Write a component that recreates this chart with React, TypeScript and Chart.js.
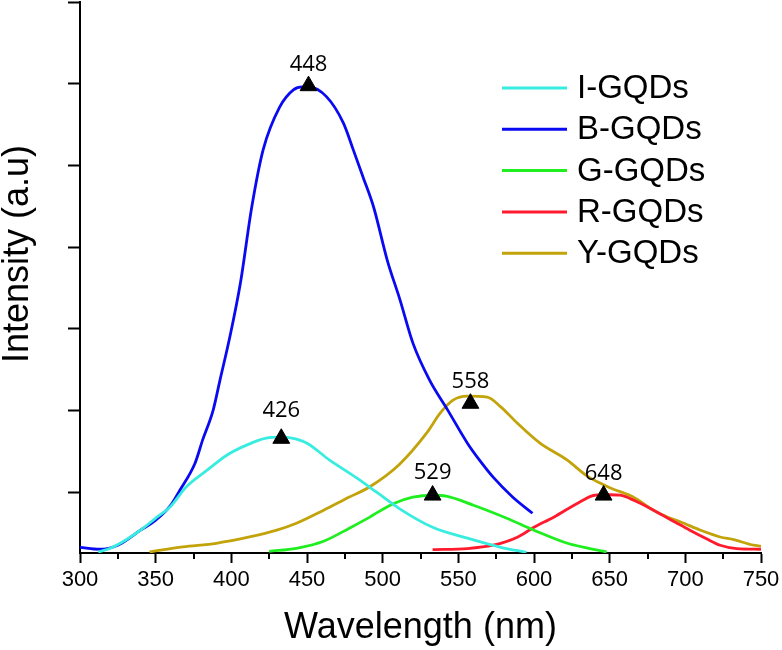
import React, { useEffect, useRef } from 'react';
import Chart from 'chart.js/auto';

// ---- data ----
const seriesLabels = ['I-GQDs', 'B-GQDs', 'G-GQDs', 'R-GQDs', 'Y-GQDs'];

const iWl = [312, 320, 330, 340, 350, 360, 370, 384, 397, 410, 423, 433, 440, 450, 465, 483, 496, 511, 533, 556, 578, 595];
const iInt = [269, 314, 412, 535, 682, 829, 1061, 1270, 1453, 1576, 1662, 1674, 1662, 1600, 1392, 1172, 1000, 800, 571, 437, 326, 265];

const bWl = [300, 313, 325, 340, 350, 360, 366, 376, 381, 388, 392.5, 399, 406, 413.5, 421, 432, 441, 447, 451, 463, 474, 480.6, 487, 494, 503, 511.5, 520, 531, 543, 556, 564, 573, 586, 599];
const bInt = [326, 302, 351, 535, 657, 841, 1025, 1355, 1637, 2005, 2372, 2899, 3560, 4491, 5190, 5716, 5925, 5961, 5961, 5839, 5520, 5190, 4859, 4491, 3842, 3352, 2825, 2372, 2005, 1600, 1392, 1184, 939, 743];

const gWl = [425, 443, 461, 478, 490, 507, 520, 533, 542, 560, 582, 600, 622, 648];
const gInt = [277, 314, 400, 560, 680, 860, 939, 963, 951, 841, 682, 535, 375, 269];

const rWl = [533, 556, 573, 589, 600, 613, 630, 640, 650, 657, 666, 679, 694, 703, 714, 723, 734, 750];
const rInt = [298, 310, 351, 449, 571, 694, 878, 963, 969, 963, 902, 780, 626, 535, 430, 351, 310, 302];

const yWl = [346, 368, 390, 412, 430, 443, 461, 478, 491, 511, 529, 538, 546.5, 556, 569, 578, 589, 604, 622, 635, 646, 652, 665.5, 679, 688, 697, 710, 723, 732, 745, 750];
const yInt = [269, 330, 375, 452, 535, 620, 780, 942, 1061, 1340, 1723, 1968, 2127, 2176, 2164, 2045, 1845, 1600, 1392, 1200, 1090, 1040, 942, 780, 697, 636, 535, 452, 420, 351, 339];

const peakWl = [451, 433, 558, 533, 646];
const peakInt = [5974, 1658, 2087, 963, 963];
const peakLabels = ['448', '426', '558', '529', '648'];

const xTicks = [300, 350, 400, 450, 500, 550, 600, 650, 700, 750];
const xMinorTicks = [325, 375, 425, 475, 525, 575, 625, 675, 725];
const yTicks = [1000, 2000, 3000, 4000, 5000, 6000, 7000];
const xTitle = 'Wavelength (nm)';
const yTitle = 'Intensity (a.u)';

// ---- styles ----
const seriesColors = ['#38EDE0', '#0A0AF2', '#1FEE1F', '#FF1A2E', '#C2A30A'];
const FONT = '"Liberation Sans", Arial, sans-serif';
const labelGaps = [5, 12, 5.5, 7, 6];
const TRI_R = 9.7;

const extrasPlugin = {
  id: 'extras',
  afterDraw(chart: any) {
    const { ctx, chartArea, scales } = chart;
    const x = scales.x;
    ctx.save();
    // minor ticks on x axis
    ctx.strokeStyle = '#000';
    ctx.lineWidth = 2;
    xMinorTicks.forEach((v) => {
      const px = Math.round(x.getPixelForValue(v));
      ctx.beginPath();
      ctx.moveTo(px, chartArea.bottom);
      ctx.lineTo(px, chartArea.bottom + 6);
      ctx.stroke();
    });
    // axis titles
    ctx.fillStyle = '#000';
    ctx.font = `36px ${FONT}`;
    ctx.textAlign = 'center';
    ctx.textBaseline = 'alphabetic';
    ctx.fillText(xTitle, (chartArea.left + chartArea.right) / 2, chartArea.bottom + 85);
    ctx.save();
    ctx.translate(chartArea.left - 52, chartArea.top + 252);
    ctx.rotate(-Math.PI / 2);
    ctx.fillText(yTitle, 0, 0);
    ctx.restore();
    // legend
    const lx0 = chartArea.left + 422;
    const ly0 = chartArea.top + 86;
    ctx.font = `33px ${FONT}`;
    ctx.textAlign = 'left';
    chart.data.datasets.slice(0, 5).forEach((ds: any, i: number) => {
      const ly = ly0 + i * 41.3;
      ctx.strokeStyle = ds.borderColor;
      ctx.lineWidth = 3;
      ctx.beginPath();
      ctx.moveTo(lx0, ly);
      ctx.lineTo(lx0 + 65, ly);
      ctx.stroke();
      ctx.fillStyle = '#000';
      ctx.fillText(ds.label, lx0 + 75, ly + 10);
    });
    // peak labels
    const meta = chart.getDatasetMeta(5);
    ctx.font = `22px "Open Sans", "Noto Sans", sans-serif`;
    ctx.textAlign = 'center';
    ctx.fillStyle = '#000';
    meta.data.forEach((el: any, i: number) => {
      ctx.fillText(peakLabels[i], el.x, el.y - TRI_R - labelGaps[i]);
    });
    ctx.restore();
  },
};

export default function App() {
  const ref = useRef<HTMLCanvasElement>(null);
  useEffect(() => {
    const canvas = ref.current!;
    const series = [
      [iWl, iInt],
      [bWl, bInt],
      [gWl, gInt],
      [rWl, rInt],
      [yWl, yInt],
    ];
    const datasets: any[] = series.map(([w, v], i) => ({
      type: 'scatter',
      label: seriesLabels[i],
      data: w.map((xv, k) => ({ x: xv, y: v[k] })),
      borderColor: seriesColors[i],
      backgroundColor: seriesColors[i],
      borderWidth: 2.8,
      pointRadius: 0,
      showLine: true,
      fill: false,
      cubicInterpolationMode: 'monotone',
      order: i + 1,
    }));
    datasets.push({
      type: 'scatter',
      label: 'peaks',
      data: peakWl.map((xv, k) => ({ x: xv, y: peakInt[k] })),
      pointStyle: 'triangle',
      pointRadius: TRI_R,
      backgroundColor: '#000',
      borderColor: '#000',
      borderWidth: 1,
      showLine: false,
      order: 0,
    });
    const chart = new Chart(canvas, {
      type: 'scatter',
      data: { datasets },
      options: {
        responsive: false,
        animation: false,
        events: [],
        layout: { autoPadding: false, padding: { left: 0, top: 2, right: 21, bottom: 0 } },
        plugins: { legend: { display: false }, tooltip: { enabled: false } },
        scales: {
          x: {
            type: 'linear',
            min: 300,
            max: 750,
            afterBuildTicks: (s: any) => {
              s.ticks = xTicks.map((v) => ({ value: v }));
            },
            afterFit: (s: any) => {
              s.height = 97;
              s.paddingLeft = 0;
              s.paddingRight = 0;
            },
            ticks: {
              font: { family: FONT, size: 22 },
              color: '#000',
              padding: 4,
              maxRotation: 0,
              autoSkip: false,
              callback: (v: any) => String(v),
            },
            grid: {
              drawOnChartArea: false,
              drawTicks: true,
              tickLength: 10,
              tickWidth: 2,
              tickColor: '#000',
            },
            border: { color: '#000', width: 2 },
          },
          y: {
            type: 'linear',
            min: 256,
            max: 7000,
            afterBuildTicks: (s: any) => {
              s.ticks = yTicks.map((v) => ({ value: v }));
            },
            afterFit: (s: any) => {
              s.width = 80;
              s.paddingTop = 0;
              s.paddingBottom = 0;
            },
            ticks: { display: false },
            grid: {
              drawOnChartArea: false,
              drawTicks: true,
              tickLength: 12,
              tickWidth: 2,
              tickColor: '#000',
            },
            border: { color: '#000', width: 2 },
          },
        },
      },
      plugins: [extrasPlugin],
    } as any);
    return () => chart.destroy();
  }, []);
  return (
    <div style={{ position: 'fixed', left: 0, top: 0, width: 782, height: 650, background: '#fff' }}>
      <canvas ref={ref} width={782} height={650} />
    </div>
  );
}
